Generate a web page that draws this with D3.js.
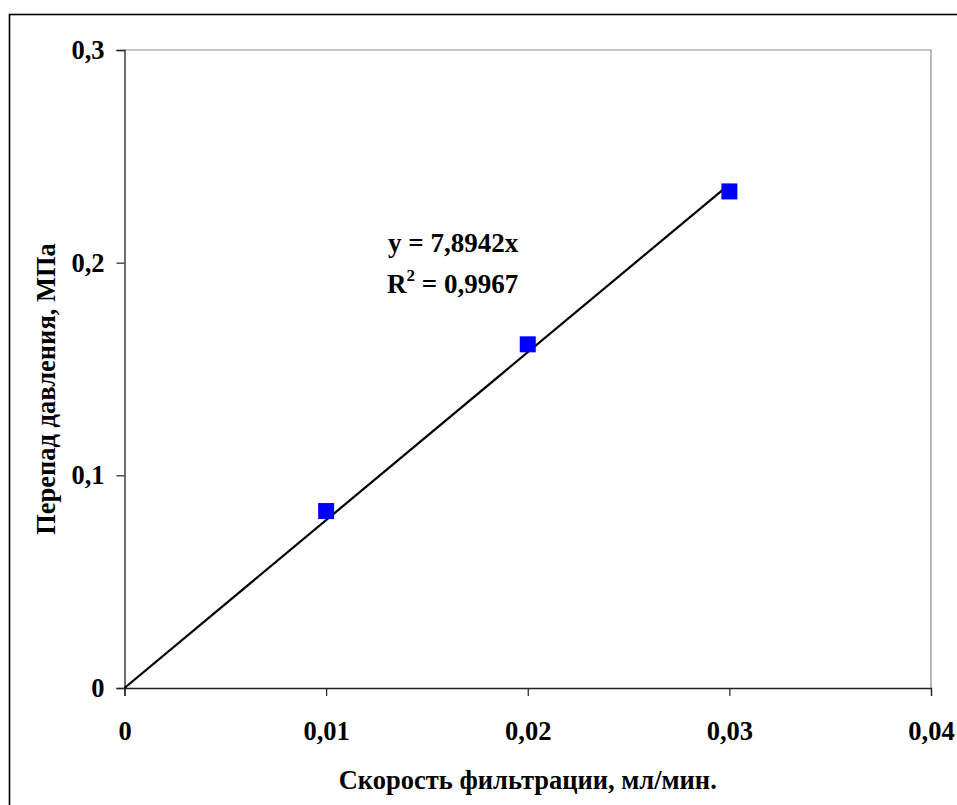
<!DOCTYPE html>
<html>
<head>
<meta charset="utf-8">
<script src="https://cdn.jsdelivr.net/npm/d3@7/dist/d3.min.js"></script>
<style>
  html, body { margin: 0; padding: 0; background: #fff; }
  svg text { font-family: "Liberation Serif", "Times New Roman", serif; font-weight: bold; fill: #000; }
</style>
</head>
<body>
<svg id="chart" width="957" height="805"></svg>
<script>
// Filtration rate (ml/min) vs. pressure drop (MPa)
const rates = [0.01, 0.02, 0.03];
const pressures = [0.0832, 0.1616, 0.2335];
const xTicks = [0, 0.01, 0.02, 0.03, 0.04];
const yTicks = [0, 0.1, 0.2, 0.3];
const slope = 7.8942;
const rSquared = "0,9967";

const svg = d3.select("#chart");
const plot = { left: 124.5, right: 931, top: 50, bottom: 688 };

const x = d3.scaleLinear().domain([0, 0.04]).range([plot.left, plot.right]);
const y = d3.scaleLinear().domain([0, 0.3]).range([plot.bottom, plot.top]);
const fmt = v => v === 0 ? "0" : d3.format(".2~f")(v).replace(".", ",");

// outer chart frame
svg.append("rect")
  .attr("x", 9.5).attr("y", 14.5)
  .attr("width", 1000).attr("height", 1000)
  .attr("fill", "none").attr("stroke", "#000").attr("stroke-width", 1.6);

// plot area border (top and right)
svg.append("path")
  .attr("d", `M${plot.left},${plot.top}H${plot.right}V${plot.bottom}`)
  .attr("fill", "none").attr("stroke", "#8c8c8c").attr("stroke-width", 1.2);

// x axis
const xAxis = svg.append("g")
  .attr("transform", `translate(0,${plot.bottom})`)
  .call(d3.axisBottom(x).tickValues(xTicks).tickFormat(fmt).tickSize(8).tickPadding(25));
xAxis.select(".domain").attr("stroke", "#222").attr("stroke-width", 1.3);
xAxis.selectAll(".tick line").attr("stroke", "#222").attr("stroke-width", 1.2);
xAxis.selectAll(".tick text").attr("font-size", 26.5).attr("font-family", null);

// y axis
const yAxis = svg.append("g")
  .attr("transform", `translate(${plot.left},0)`)
  .call(d3.axisLeft(y).tickValues(yTicks).tickFormat(fmt).tickSize(8).tickPadding(12));
yAxis.select(".domain").attr("stroke", "#222").attr("stroke-width", 1.3);
yAxis.selectAll(".tick line").attr("stroke", "#222").attr("stroke-width", 1.2);
yAxis.selectAll(".tick text").attr("font-size", 26.5).attr("font-family", null);

// linear trendline through origin
const trend = [0, 0.03];
svg.append("line")
  .attr("x1", x(trend[0])).attr("y1", y(slope * trend[0]))
  .attr("x2", x(trend[1])).attr("y2", y(slope * trend[1]))
  .attr("stroke", "#000").attr("stroke-width", 2.2);

// data markers
const size = 16;
svg.selectAll("rect.pt")
  .data(rates.map((r, i) => [r, pressures[i]]))
  .join("rect")
  .attr("class", "pt")
  .attr("x", d => x(d[0]) - size / 2)
  .attr("y", d => y(d[1]) - size / 2)
  .attr("width", size).attr("height", size)
  .attr("fill", "#0000ff");

// trendline equation
svg.append("text")
  .attr("x", 388).attr("y", 252)
  .attr("font-size", 27)
  .text(`y = ${String(slope).replace(".", ",")}x`);
const r2 = svg.append("text")
  .attr("x", 387).attr("y", 293)
  .attr("font-size", 27);
r2.append("tspan").text("R");
r2.append("tspan").attr("font-size", 17).attr("dy", -12).text("2");
r2.append("tspan").attr("dy", 12).text(` = ${rSquared}`);

// axis titles
svg.append("text")
  .attr("x", (plot.left + plot.right) / 2).attr("y", 789)
  .attr("text-anchor", "middle").attr("font-size", 26.5)
  .text("Скорость фильтрации, мл/мин.");

svg.append("text")
  .attr("transform", `translate(55,${389}) rotate(-90)`)
  .attr("text-anchor", "middle").attr("font-size", 26.5)
  .text("Перепад давления, МПа");
</script>
</body>
</html>
